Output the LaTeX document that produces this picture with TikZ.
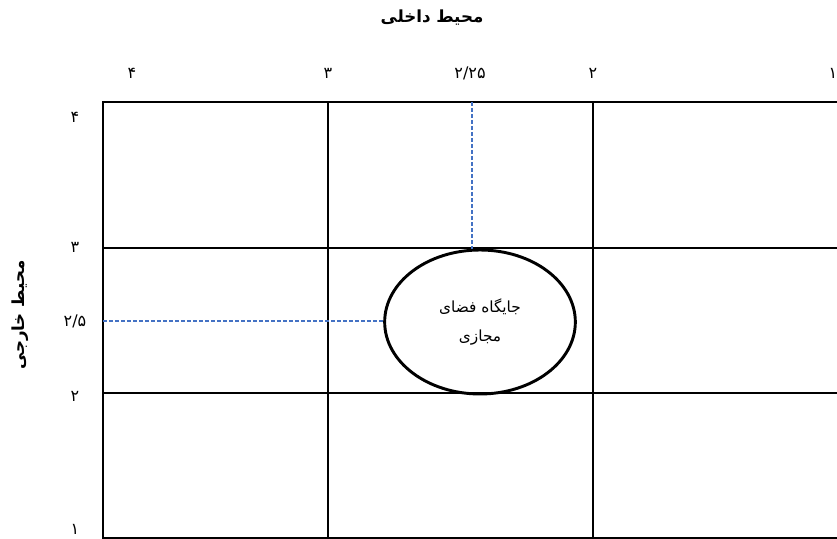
\documentclass[tikz,border=0pt]{standalone}
\usepackage{fontspec}
\usetikzlibrary{shapes.geometric}
\newfontfamily\farsi[Script=Arabic]{DejaVu Sans}
\TeXXeTstate=1
\definecolor{guideblue}{RGB}{68,114,196}
\tikzstyle{gridline} = [
    line width=1.5pt,
    draw=black
]
\tikzstyle{guide} = [
    draw=guideblue,
    line width=0.8pt,
    dash pattern=on 3pt off 1.5pt
]
\tikzstyle{tick} = [
    inner sep=0pt,
    font=\farsi\fontsize{12}{14}\selectfont
]
\tikzstyle{axistitle} = [
    inner sep=0pt,
    font=\farsi\bfseries\fontsize{12.5}{15}\selectfont
]
\tikzstyle{place} = [
    ellipse,
    draw=black,
    line width=2.2pt,
    minimum width=143pt,
    minimum height=108pt,
    inner sep=0pt,
    align=center,
    font=\farsi\fontsize{11.5}{22}\selectfont
]

\begin{document}
\begin{tikzpicture}[x=0.75pt, y=-0.75pt]
\useasboundingbox (0,0) rectangle (837,538);
\clip (0,0) rectangle (837,538);

% grid
\draw [gridline] (103,102) rectangle (900,538);
\draw [gridline] (328,102) -- (328,538);
\draw [gridline] (593,102) -- (593,538);
\draw [gridline] (103,248) -- (900,248);
\draw [gridline] (103,393) -- (900,393);

\node (inner) [axistitle] at (432,18) {\beginR محیط داخلی\endR};
\node (outer) [axistitle, rotate=90] at (20,315) {\beginR محیط خارجی\endR};

\node (top4) [tick] at (132,73) {۴};
\node (top3) [tick] at (328,73) {۳};
\node (top225) [tick] at (470,73) {۲/۲۵};
\node (top2) [tick] at (593,73) {۲};
\node (top1) [tick] at (833,73) {۱};

\node (left4) [tick] at (75,117) {۴};
\node (left3) [tick] at (75,247) {۳};
\node (left25) [tick] at (75,321) {۲/۵};
\node (left2) [tick] at (75,396) {۲};
\node (left1) [tick] at (75,529) {۱};

\node (place) [place] at (480,322)
{\beginR جایگاه فضای\endR\\\beginR مجازی\endR};

\coordinate (vtop) at (472,102);
\coordinate (hleft) at (103,321);

\draw [guide] (vtop) -- (vtop |- place.north);
\draw [guide] (hleft) -- (hleft -| place.west);

\end{tikzpicture}
\end{document}
